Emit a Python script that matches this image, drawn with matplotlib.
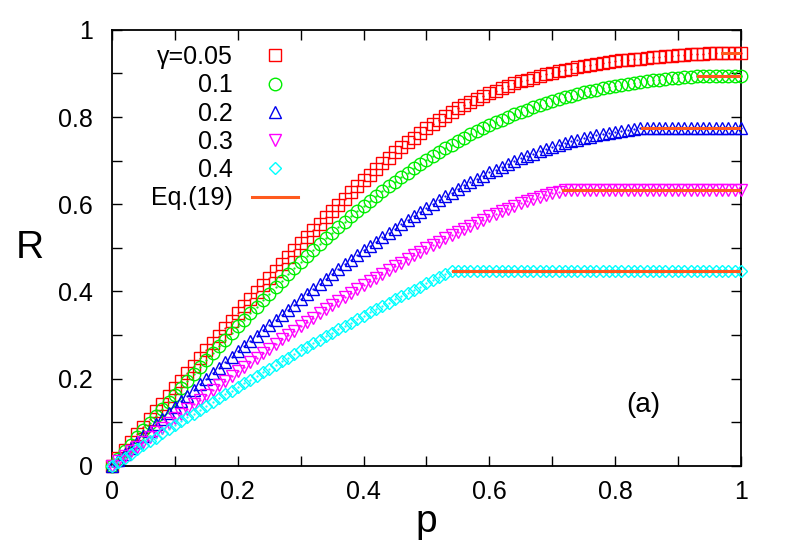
import numpy as np
import matplotlib
matplotlib.use("Agg")
import matplotlib.pyplot as plt

plt.rcParams['font.family'] = ['Liberation Sans', 'DejaVu Sans']

# p grid (markers every 0.01)
p = np.linspace(0, 1, 101)

# R values, one list per gamma
r_005 = [0.000, 0.018, 0.036, 0.054, 0.072, 0.090, 0.108, 0.125, 0.143, 0.160,
         0.178, 0.195, 0.213, 0.230, 0.248, 0.265, 0.282, 0.299, 0.316, 0.333,
         0.350, 0.366, 0.382, 0.398, 0.414, 0.430, 0.446, 0.462, 0.478, 0.494,
         0.510, 0.525, 0.540, 0.555, 0.570, 0.585, 0.599, 0.613, 0.627, 0.641,
         0.655, 0.668, 0.681, 0.694, 0.707, 0.720, 0.731, 0.742, 0.753, 0.764,
         0.775, 0.784, 0.793, 0.802, 0.811, 0.820, 0.827, 0.834, 0.841, 0.848,
         0.855, 0.860, 0.866, 0.871, 0.877, 0.882, 0.886, 0.890, 0.894, 0.898,
         0.902, 0.905, 0.908, 0.911, 0.914, 0.917, 0.919, 0.921, 0.924, 0.926,
         0.928, 0.930, 0.931, 0.933, 0.934, 0.936, 0.937, 0.938, 0.940, 0.941,
         0.942, 0.943, 0.944, 0.944, 0.945, 0.946, 0.946, 0.947, 0.947, 0.947,
         0.947]
r_01 = [0.000, 0.016, 0.033, 0.049, 0.066, 0.082, 0.098, 0.114, 0.131, 0.147,
        0.163, 0.179, 0.195, 0.211, 0.227, 0.243, 0.258, 0.274, 0.289, 0.305,
        0.320, 0.335, 0.350, 0.365, 0.380, 0.395, 0.410, 0.424, 0.439, 0.453,
        0.468, 0.481, 0.495, 0.508, 0.522, 0.535, 0.547, 0.560, 0.572, 0.585,
        0.597, 0.608, 0.619, 0.630, 0.641, 0.652, 0.662, 0.672, 0.682, 0.692,
        0.702, 0.711, 0.719, 0.728, 0.736, 0.745, 0.752, 0.760, 0.767, 0.775,
        0.782, 0.788, 0.794, 0.800, 0.806, 0.812, 0.817, 0.822, 0.827, 0.832,
        0.837, 0.841, 0.845, 0.849, 0.853, 0.857, 0.860, 0.863, 0.866, 0.869,
        0.872, 0.874, 0.876, 0.879, 0.881, 0.883, 0.884, 0.886, 0.887, 0.889,
        0.890, 0.891, 0.892, 0.893, 0.893, 0.893, 0.893, 0.893, 0.893, 0.893,
        0.893]
r_02 = [0.000, 0.014, 0.027, 0.041, 0.054, 0.068, 0.081, 0.095, 0.108, 0.122,
        0.135, 0.148, 0.161, 0.174, 0.187, 0.200, 0.213, 0.225, 0.238, 0.250,
        0.263, 0.275, 0.287, 0.299, 0.311, 0.323, 0.335, 0.347, 0.358, 0.370,
        0.382, 0.394, 0.405, 0.417, 0.428, 0.440, 0.451, 0.462, 0.472, 0.483,
        0.494, 0.504, 0.514, 0.524, 0.534, 0.544, 0.554, 0.564, 0.573, 0.583,
        0.592, 0.601, 0.609, 0.618, 0.626, 0.635, 0.643, 0.650, 0.658, 0.665,
        0.673, 0.679, 0.686, 0.692, 0.699, 0.705, 0.710, 0.716, 0.721, 0.727,
        0.732, 0.736, 0.740, 0.744, 0.748, 0.752, 0.755, 0.758, 0.760, 0.763,
        0.766, 0.768, 0.770, 0.772, 0.774, 0.774, 0.774, 0.774, 0.774, 0.774,
        0.774, 0.774, 0.774, 0.774, 0.774, 0.774, 0.774, 0.774, 0.774, 0.774,
        0.774]
r_03 = [0.000, 0.011, 0.022, 0.033, 0.044, 0.055, 0.066, 0.077, 0.087, 0.098,
        0.109, 0.120, 0.131, 0.141, 0.152, 0.163, 0.174, 0.185, 0.195, 0.206,
        0.217, 0.227, 0.238, 0.248, 0.259, 0.269, 0.279, 0.290, 0.300, 0.310,
        0.320, 0.330, 0.340, 0.350, 0.360, 0.369, 0.378, 0.388, 0.397, 0.406,
        0.415, 0.424, 0.432, 0.441, 0.450, 0.458, 0.466, 0.475, 0.483, 0.491,
        0.499, 0.507, 0.514, 0.522, 0.530, 0.537, 0.544, 0.551, 0.558, 0.565,
        0.572, 0.578, 0.584, 0.590, 0.596, 0.602, 0.607, 0.612, 0.617, 0.622,
        0.626, 0.629, 0.632, 0.632, 0.632, 0.632, 0.632, 0.632, 0.632, 0.632,
        0.632, 0.632, 0.632, 0.632, 0.632, 0.632, 0.632, 0.632, 0.632, 0.632,
        0.632, 0.632, 0.632, 0.632, 0.632, 0.632, 0.632, 0.632, 0.632, 0.632,
        0.632]
r_04 = [0.000, 0.009, 0.019, 0.028, 0.038, 0.047, 0.056, 0.065, 0.075, 0.084,
        0.093, 0.102, 0.111, 0.120, 0.129, 0.137, 0.146, 0.155, 0.164, 0.172,
        0.181, 0.190, 0.198, 0.207, 0.215, 0.223, 0.232, 0.240, 0.248, 0.256,
        0.265, 0.273, 0.281, 0.289, 0.297, 0.305, 0.313, 0.321, 0.328, 0.336,
        0.344, 0.352, 0.359, 0.367, 0.374, 0.382, 0.389, 0.397, 0.404, 0.411,
        0.419, 0.426, 0.433, 0.440, 0.447, 0.447, 0.447, 0.447, 0.447, 0.447,
        0.447, 0.447, 0.447, 0.447, 0.447, 0.447, 0.447, 0.447, 0.447, 0.447,
        0.447, 0.447, 0.447, 0.447, 0.447, 0.447, 0.447, 0.447, 0.447, 0.447,
        0.447, 0.447, 0.447, 0.447, 0.447, 0.447, 0.447, 0.447, 0.447, 0.447,
        0.447, 0.447, 0.447, 0.447, 0.447, 0.447, 0.447, 0.447, 0.447, 0.447,
        0.447]

labels = ['γ=0.05', '0.1', '0.2', '0.3', '0.4']
colors = ['#ff0000', '#00ee00', '#0000ee', '#ff00ff', '#00ffff']
markers = ['s', 'o', '^', 'v', 'D']
sizes = [8, 9, 8.5, 8.5, 6.5]

# Eq.(19) plateau segments: start of plateau and level
eq_start = [0.97, 0.932, 0.842, 0.717, 0.542]
eq_level = [0.947, 0.894, 0.774, 0.632, 0.447]
eq_color = '#ff5a1e'

fig = plt.figure(figsize=(7.89, 5.52), dpi=100)
ax = fig.add_axes([0.142, 0.156, 0.797, 0.790])

series = [r_005, r_01, r_02, r_03, r_04]
for r, lab, c, m, s in zip(series, labels, colors, markers, sizes):
    ax.plot(p, r, linestyle='none', marker=m, ms=s, mfc='none', mec=c,
            mew=1.0, label=lab, clip_on=False, zorder=3)
    ax.plot(p, r, linestyle='none', marker='.', ms=1.2, color=c,
            clip_on=False, zorder=3)

for i, (x0, lev) in enumerate(zip(eq_start, eq_level)):
    ax.plot([x0, 1.0], [lev, lev], color=eq_color, lw=2.2, zorder=4,
            label='Eq.(19)' if i == 0 else None)

ax.set_xlim(0, 1)
ax.set_ylim(0, 1)
ax.set_xticks([0, 0.2, 0.4, 0.6, 0.8, 1])
ax.set_xticklabels(['0', '0.2', '0.4', '0.6', '0.8', '1'])
ax.set_yticks([0, 0.2, 0.4, 0.6, 0.8, 1])
ax.set_yticklabels(['0', '0.2', '0.4', '0.6', '0.8', '1'])
ax.set_xticks(np.arange(0.1, 1.0, 0.2), minor=True)
ax.set_yticks(np.arange(0.1, 1.0, 0.2), minor=True)
ax.tick_params(which='both', direction='in', top=True, right=True,
               length=7, width=1.0, labelsize=18)
ax.tick_params(axis='x', pad=10)
ax.tick_params(axis='y', pad=14)
for sp in ax.spines.values():
    sp.set_linewidth(1.3)

ax.set_xlabel('p', fontsize=28, labelpad=0)
ax.set_ylabel('R', fontsize=28, rotation=0, labelpad=20, va='center')

leg = ax.legend(loc='upper right', bbox_to_anchor=(0.296, 0.965),
                frameon=False, markerfirst=False, fontsize=18,
                handlelength=1.85, handletextpad=0.75, labelspacing=0.17,
                borderpad=0, borderaxespad=0)

ax.text(0.845, 0.14, '(a)', fontsize=20, ha='center', va='center',
        transform=ax.transAxes)

fig.savefig('out.png', dpi=100)
